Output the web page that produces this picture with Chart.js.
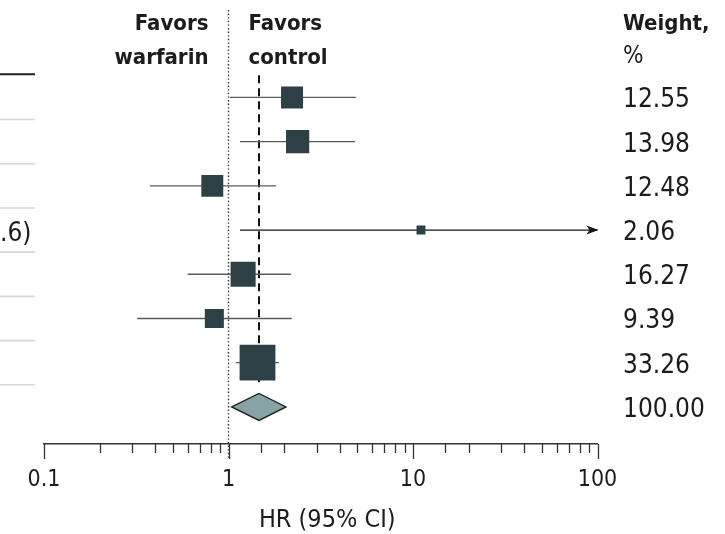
<!DOCTYPE html>
<html>
<head>
<meta charset="utf-8">
<script src="https://cdn.jsdelivr.net/npm/chart.js@4/dist/chart.umd.min.js"></script>
<style>
html,body{margin:0;padding:0;background:#fff;}
#wrap{width:725px;height:534px;position:relative;}
</style>
</head>
<body>
<div id="wrap"><canvas id="c" width="725" height="534"></canvas></div>
<script>
// ---- data ----
const hr      = [2.21, 2.37, 0.817, 11.05, 1.20, 0.838, 1.436];
const ciLow   = [1.02, 1.154, 0.375, 1.154, 0.601, 0.32, 1.098];
const ciHigh  = [4.90, 4.85, 1.81, 106.6, 2.18, 2.20, 1.88];
const weights = [12.55, 13.98, 12.48, 2.06, 16.27, 9.39, 33.26];
const weightLabels = ['12.55', '13.98', '12.48', '2.06', '16.27', '9.39', '33.26'];
const pooledHR = 1.463, pooledLow = 1.04, pooledHigh = 2.05;
const pooledWeightLabel = '100.00';
const xTickLabels = [0.1, 1, 10, 100];
const rowLabelFragment = ['', '', '', '.6)', '', '', ''];
const axisTitle = 'HR (95% CI)';

// ---- styling ----
const FONT = '"DejaVu Sans Condensed","DejaVu Sans",sans-serif';
const TXT = '#1c1c1c';
const SQ = '#2c4046';
const pooledRow = hr.length + 1;

const ciDatasets = hr.map((v, i) => ({
  type: 'line',
  data: [{x: ciLow[i], y: i + 1}, {x: ciHigh[i], y: i + 1}],
  borderColor: ciHigh[i] > 100 ? '#151515' : '#5c5c5c',
  borderWidth: 1.3,
  pointRadius: 0,
  fill: false,
  order: 2
}));

const squareDataset = {
  type: 'scatter',
  data: hr.map((v, i) => ({x: v, y: i + 1})),
  pointStyle: 'rect',
  pointRadius: weights.map(w => 4.39 * Math.sqrt(w)),
  pointHoverRadius: weights.map(w => 4.39 * Math.sqrt(w)),
  backgroundColor: SQ,
  borderColor: SQ,
  borderWidth: 0,
  order: 0
};

const pooledLine = {
  type: 'line',
  data: [{x: pooledHR, y: 0.5}, {x: pooledHR, y: pooledRow - 0.45}],
  borderColor: '#111',
  borderWidth: 2,
  borderDash: [8, 5],
  pointRadius: 0,
  fill: false,
  order: 3
};

const isMajor = v => Math.abs(Math.log10(v) - Math.round(Math.log10(v))) < 1e-6;

const forestPlugin = {
  id: 'forest',
  beforeDatasetsDraw(chart) {
    const ctx = chart.ctx, xs = chart.scales.x, area = chart.chartArea;
    const px = xs.getPixelForValue(1);
    ctx.save();
    ctx.strokeStyle = '#333';
    ctx.lineWidth = 1.4;
    ctx.setLineDash([1.4, 2.2]);
    ctx.beginPath();
    ctx.moveTo(px, 10);
    ctx.lineTo(px, area.bottom + 16);
    ctx.stroke();
    ctx.restore();
  },
  afterDatasetsDraw(chart) {
    const ctx = chart.ctx, xs = chart.scales.x, ys = chart.scales.y;
    const y = ys.getPixelForValue(pooledRow);
    const xl = xs.getPixelForValue(pooledLow), xm = xs.getPixelForValue(pooledHR), xr = xs.getPixelForValue(pooledHigh);
    ctx.save();
    ctx.beginPath();
    ctx.moveTo(xl, y); ctx.lineTo(xm, y - 13.5); ctx.lineTo(xr, y); ctx.lineTo(xm, y + 13.5); ctx.closePath();
    ctx.fillStyle = '#87a3a6';
    ctx.fill();
    ctx.strokeStyle = '#1e1e1e';
    ctx.lineWidth = 1.3;
    ctx.stroke();
    ciHigh.forEach((h, i) => {
      if (h > xs.max) {
        const ty = ys.getPixelForValue(i + 1), tx = xs.getPixelForValue(xs.max);
        ctx.beginPath();
        ctx.moveTo(tx + 1, ty); ctx.lineTo(tx - 11, ty - 4.5); ctx.lineTo(tx - 8, ty); ctx.lineTo(tx - 11, ty + 4.5); ctx.closePath();
        ctx.fillStyle = '#151515';
        ctx.fill();
      }
    });
    ctx.restore();
  },
  afterDraw(chart) {
    const ctx = chart.ctx, xs = chart.scales.x, ys = chart.scales.y, area = chart.chartArea;
    ctx.save();
    ctx.strokeStyle = '#333';
    ctx.lineWidth = 1.3;
    xs.ticks.forEach(t => {
      const p = Math.round(xs.getPixelForValue(t.value)) + 0.5;
      const len = isMajor(t.value) ? 15 : 9;
      ctx.beginPath(); ctx.moveTo(p, area.bottom); ctx.lineTo(p, area.bottom + len); ctx.stroke();
    });
    ctx.strokeStyle = '#222'; ctx.lineWidth = 2;
    const topSep = ys.getPixelForValue(0.5) - 1;
    ctx.beginPath(); ctx.moveTo(0, topSep); ctx.lineTo(35, topSep); ctx.stroke();
    ctx.strokeStyle = '#dad8cf'; ctx.lineWidth = 1.6;
    for (let i = 1; i < pooledRow; i++) {
      const sy = ys.getPixelForValue(i + 0.5);
      ctx.beginPath(); ctx.moveTo(0, sy); ctx.lineTo(35, sy); ctx.stroke();
    }
    ctx.fillStyle = TXT;
    ctx.textBaseline = 'alphabetic';
    ctx.font = '26px ' + FONT;
    ctx.textAlign = 'left';
    rowLabelFragment.forEach((s, i) => { if (s) ctx.fillText(s, 0, ys.getPixelForValue(i + 1) + 11); });
    const p1 = xs.getPixelForValue(1);
    ctx.font = 'bold 22px ' + FONT;
    ctx.textAlign = 'right';
    ctx.fillText('Favors', p1 - 20, 30);
    ctx.fillText('warfarin', p1 - 20, 63.5);
    ctx.textAlign = 'left';
    ctx.fillText('Favors', p1 + 20, 30);
    ctx.fillText('control', p1 + 20, 63.5);
    ctx.fillText('Weight,', 623, 30);
    ctx.font = '24px ' + FONT;
    ctx.fillText('%', 623, 63);
    ctx.font = '26px ' + FONT;
    weightLabels.forEach((w, i) => ctx.fillText(w, 623, ys.getPixelForValue(i + 1) + 10));
    ctx.fillText(pooledWeightLabel, 623, ys.getPixelForValue(pooledRow) + 10);
    // axis title
    ctx.font = '25px ' + FONT;
    ctx.textAlign = 'center';
    ctx.fillText(axisTitle, (area.left + area.right) / 2 + 6.5, 527);
    ctx.restore();
  }
};

new Chart(document.getElementById('c'), {
  type: 'scatter',
  data: { datasets: [squareDataset, ...ciDatasets, pooledLine] },
  options: {
    responsive: false,
    animation: false,
    devicePixelRatio: 1,
    layout: { padding: { left: 44, right: 127.5, top: 0, bottom: 0 } },
    plugins: { legend: { display: false }, tooltip: { enabled: false } },
    scales: {
      x: {
        type: 'logarithmic',
        min: 0.1,
        max: 100,
        afterFit: s => { s.height = 90; },
        grid: { display: true, drawOnChartArea: false, drawTicks: false },
        border: { display: true, color: '#333', width: 1.5 },
        ticks: {
          autoSkip: false,
          maxRotation: 0,
          padding: 22,
          color: TXT,
          font: { family: FONT, size: 23 },
          callback: (v) => {
            const t = xTickLabels.find(t => Math.abs(t - v) < 1e-9 * Math.max(1, t));
            return t !== undefined ? String(t) : '';
          }
        },
        title: { display: false, text: axisTitle }
      },
      y: {
        type: 'linear',
        display: false,
        reverse: true,
        min: -0.631,
        max: 8.839
      }
    }
  },
  plugins: [forestPlugin]
});
</script>
</body>
</html>
